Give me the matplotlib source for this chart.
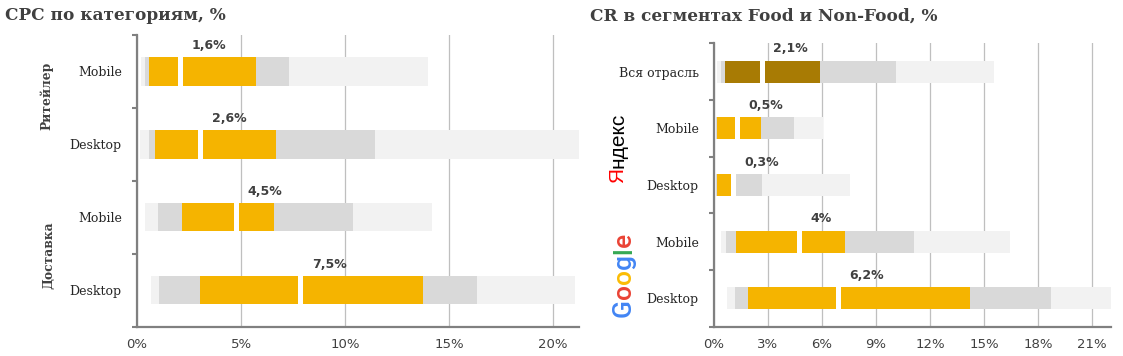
import matplotlib
matplotlib.use("Agg")
import matplotlib.pyplot as plt
from matplotlib.font_manager import FontProperties
import numpy as np

# ---- data (percent) ----
cpc_rows = ["Mobile", "Desktop", "Mobile", "Desktop"]
cpc_groups = ["Ритейлер", "Доставка"]
# segment boundaries: min, p10, p25, median gap start, gap end, p75, p90, max
cpc_bounds = [
    [0.21, 0.40, 0.59, 1.97, 2.23, 5.73, 7.32, 13.99],
    [0.16, 0.59, 0.88, 2.95, 3.19, 6.70, 11.46, 21.40],
    [0.40, 1.02, 2.18, 4.68, 4.92, 6.60, 10.40, 14.20],
    [0.69, 1.07, 3.04, 7.76, 8.00, 13.76, 16.36, 21.07],
]
cpc_labels = ["1,6%", "2,6%", "4,5%", "7,5%"]

cr_rows = ["Вся отрасль", "Mobile", "Desktop", "Mobile", "Desktop"]
cr_bounds = [
    [0.17, 0.39, 0.61, 2.56, 2.83, 5.89, 10.11, 15.56],
    [0.10, 0.10, 0.17, 1.17, 1.44, 2.61, 4.44, 6.06],
    [0.10, 0.10, 0.17, 0.94, 1.22, 1.22, 2.67, 7.56],
    [0.39, 0.67, 1.22, 4.61, 4.89, 7.28, 11.11, 16.44],
    [0.72, 1.17, 1.89, 6.78, 7.06, 14.22, 18.72, 22.20],
]
cr_labels = ["2,1%", "0,5%", "0,3%", "4%", "6,2%"]

# ---- styles ----
LIGHT = "#F2F2F2"
GRAY = "#D9D9D9"
ORANGE = "#F5B400"
BROWN = "#A87B04"
AXIS = "#808080"
GRID = "#BFBFBF"
TXT = "#404040"
SERIF = "DejaVu Serif"
SANS = "DejaVu Sans"
BAR_H = 0.39

W, H = 1123, 356
fig = plt.figure(figsize=(W / 100, H / 100), dpi=100)


def px(x, y):
    """ pixel position (from top-left) -> figure fraction """
    return x / W, 1 - y / H


def seg_colors(main):
    return [LIGHT, GRAY, main, "white", main, GRAY, LIGHT]


def draw_panel(ax, rows, bounds, labels, main_colors, xmax, xstep):
    n = len(rows)
    for i, b in enumerate(bounds):
        b = np.asarray(b)
        ax.barh([i] * 7, np.diff(b), left=b[:-1], height=BAR_H,
                color=seg_colors(main_colors[i]), linewidth=0, zorder=3)
        ax.annotate(labels[i], xy=(b[4], i - BAR_H / 2), xytext=(6, 8.5),
                    textcoords="offset points", ha="left", va="center",
                    fontsize=9, fontweight="bold", family=SANS, color=TXT,
                    zorder=5)

    ax.set_xlim(0, xmax)
    ax.set_ylim(n - 0.5, -0.5)
    xt = np.arange(0, xmax + 0.01, xstep)
    ax.set_xticks(xt)
    ax.set_xticklabels([f"{v:g}%" for v in xt], fontsize=9.5, family=SANS, color=TXT)
    ax.tick_params(axis="x", length=0, pad=8)
    ax.grid(axis="x", color=GRID, lw=0.9, zorder=0)
    ax.set_axisbelow(True)

    # category boundaries carry tick marks, names sit at the centres
    ax.set_yticks(np.arange(-0.5, n, 1.0))
    ax.set_yticklabels([])
    ax.tick_params(axis="y", which="major", length=3.5, width=1.5, color=AXIS)
    ax.set_yticks(np.arange(n), minor=True)
    ax.set_yticklabels(rows, minor=True, fontsize=9, family=SERIF, color="#262626")
    ax.tick_params(axis="y", which="minor", length=0, pad=11)

    for s in ("top", "right"):
        ax.spines[s].set_visible(False)
    for s in ("left", "bottom"):
        ax.spines[s].set_color(AXIS)
        ax.spines[s].set_linewidth(1.6)


def vertical_word(parts, center, size, family, weight="normal"):
    """ write coloured pieces of a word rotated 90 deg, centred at a pixel point """
    fig.canvas.draw()
    r = fig.canvas.get_renderer()
    prop = FontProperties(family=family, size=size, weight=weight)
    widths = [r.get_text_width_height_descent(s, prop, ismath=False)[0] for s, _ in parts]
    total = sum(widths)
    y = center[1] + total / 2
    for (s, c), w in zip(parts, widths):
        fx, fy = px(center[0], y)
        fig.text(fx, fy, s, rotation=90, rotation_mode="anchor", ha="left",
                 va="center", color=c, fontproperties=prop)
        y -= w


ax1 = fig.add_axes([137 / W, (H - 326.5) / H, 442 / W, 291.5 / H])
draw_panel(ax1, cpc_rows, cpc_bounds, cpc_labels, [ORANGE] * 4, 21.25, 5)

ax2 = fig.add_axes([714 / W, (H - 326.7) / H, 396.7 / W, 283.4 / H])
draw_panel(ax2, cr_rows, cr_bounds, cr_labels, [BROWN] + [ORANGE] * 4, 22.04, 3)

fig.text(*px(5, 16), "CPC по категориям, %", fontsize=12.2, fontweight="bold",
         family=SERIF, color=TXT, va="center", ha="left")
fig.text(*px(590, 16), "CR в сегментах Food и Non-Food, %", fontsize=12.2,
         fontweight="bold", family=SERIF, color=TXT, va="center", ha="left")

# group names on the left panel
fig.text(*px(47, 96), cpc_groups[0], rotation=90, ha="center", va="center",
         fontsize=8.8, fontweight="bold", family=SERIF, color=TXT)
fig.text(*px(49, 255), cpc_groups[1], rotation=90, ha="center", va="center",
         fontsize=8.8, fontweight="bold", family=SERIF, color=TXT)

# search engine names on the right panel
vertical_word([("Я", "#FF0000"), ("ндекс", "#000000")], (618, 148), 15,
              ["Liberation Sans", "DejaVu Sans"])
vertical_word([("G", "#4285F4"), ("o", "#EA4335"), ("o", "#FBBC05"),
               ("g", "#4285F4"), ("l", "#34A853"), ("e", "#EA4335")],
              (624, 275), 19, "Roboto", weight="medium")

fig.savefig("out.png", dpi=100)
